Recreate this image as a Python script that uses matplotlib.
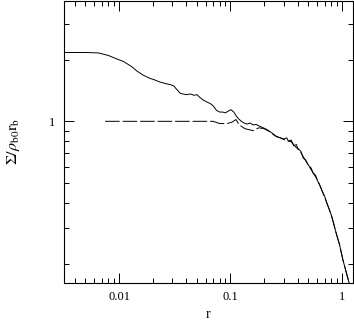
import matplotlib
matplotlib.use('Agg')
import matplotlib.pyplot as plt
from matplotlib.ticker import FixedLocator, LogLocator, NullFormatter, FixedFormatter

###       DATA        ###
# solid profile
r_solid = [0.0032, 0.005, 0.0065, 0.008, 0.0095, 0.011, 0.013, 0.0145, 0.0165, 0.019,
           0.0205, 0.023, 0.026, 0.029, 0.031, 0.033, 0.0355, 0.040, 0.044, 0.047,
           0.050, 0.053, 0.057, 0.062, 0.066, 0.070, 0.075, 0.080, 0.085, 0.090,
           0.095, 0.101, 0.107, 0.113, 0.118, 0.125, 0.133, 0.141, 0.150, 0.160,
           0.170, 0.180, 0.192, 0.205, 0.22, 0.24, 0.26, 0.28, 0.30, 0.32,
           0.33, 0.35, 0.37, 0.39, 0.40, 0.42, 0.43, 0.45, 0.47, 0.50,
           0.53, 0.55, 0.58, 0.60, 0.63, 0.66, 0.70, 0.73, 0.77, 0.80,
           0.84, 0.87, 0.91, 0.95, 1.02, 1.10, 1.16]
sig_solid = [2.17, 2.17, 2.16, 2.10, 2.02, 1.96, 1.85, 1.76, 1.68, 1.62,
             1.60, 1.56, 1.53, 1.51, 1.49, 1.43, 1.37, 1.35, 1.36, 1.34,
             1.35, 1.31, 1.27, 1.24, 1.22, 1.19, 1.13, 1.11, 1.11, 1.10,
             1.12, 1.14, 1.11, 1.06, 1.03, 1.00, 0.98, 0.97, 0.98, 0.96,
             0.965, 0.95, 0.935, 0.92, 0.90, 0.87, 0.84, 0.83, 0.82, 0.83,
             0.80, 0.81, 0.76, 0.77, 0.74, 0.72, 0.71, 0.66, 0.65, 0.61,
             0.59, 0.56, 0.545, 0.515, 0.49, 0.46, 0.43, 0.40, 0.37, 0.35,
             0.32, 0.295, 0.27, 0.25, 0.21, 0.18, 0.162]

# dashed profile
r_dash = [0.0075, 0.07, 0.08, 0.093, 0.103, 0.112, 0.12, 0.135, 0.16, 0.18,
          0.2, 0.225, 0.25, 0.28, 0.30, 0.33, 0.35, 0.37, 0.40, 0.43,
          0.45, 0.50, 0.55, 0.60, 0.66, 0.73, 0.80, 0.87, 0.95, 1.02,
          1.10, 1.16]
sig_dash = [1.0, 1.0, 0.975, 0.975, 0.99, 1.02, 0.96, 0.92, 0.90, 0.93,
            0.92, 0.89, 0.85, 0.83, 0.815, 0.80, 0.795, 0.765, 0.735, 0.70,
            0.67, 0.61, 0.56, 0.52, 0.46, 0.40, 0.35, 0.295, 0.25, 0.21,
            0.18, 0.162]

x_ticks = [0.01, 0.1, 1]
x_labels = ['0.01', '0.1', '1']
y_ticks = [1]
y_labels = ['1']

###       SETUP       ###
plt.rcParams['font.family'] = 'Liberation Serif'
plt.rcParams['mathtext.fontset'] = 'stix'

mydpi = 100
fig = plt.figure(figsize=(354/mydpi, 322/mydpi), dpi=mydpi)
ax = fig.add_axes([64/354, 1-283/322, 289/354, 283/322 - 0.002])

###       PLOT        ###
ax.plot(r_solid, sig_solid, color='black', lw=0.7)
ax.plot(r_dash, sig_dash, color='black', lw=0.7, dashes=(15, 3))

ax.set_xscale('log')
ax.set_yscale('log')
ax.set_xlim(0.00321, 1.256)
ax.set_ylim(0.162, 3.89)

ax.xaxis.set_major_locator(FixedLocator(x_ticks))
ax.xaxis.set_major_formatter(FixedFormatter(x_labels))
ax.xaxis.set_minor_locator(LogLocator(base=10, subs=range(2, 10)))
ax.xaxis.set_minor_formatter(NullFormatter())
ax.yaxis.set_major_locator(FixedLocator(y_ticks))
ax.yaxis.set_major_formatter(FixedFormatter(y_labels))
ax.yaxis.set_minor_locator(LogLocator(base=10, subs=range(2, 10)))
ax.yaxis.set_minor_formatter(NullFormatter())

ax.tick_params(which='both', direction='in', top=True, right=True, width=0.7)
ax.tick_params(which='major', length=7, labelsize=9, pad=6)
ax.tick_params(which='minor', length=3.5)
for s in ax.spines.values():
    s.set_linewidth(0.8)

ax.set_xlabel('r', fontsize=10, labelpad=3)
ax.set_ylabel(r'$\Sigma/\rho_{\rm b0}{\rm r}_{\rm b}$', fontsize=11.5, labelpad=20)

###       OUTPUT      ###
plt.savefig('out.png', dpi=mydpi, facecolor='white')
